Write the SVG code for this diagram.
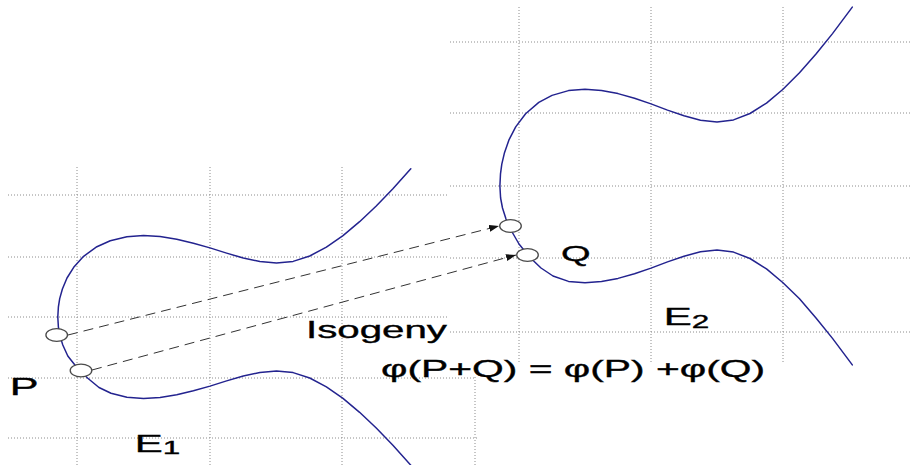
<svg xmlns="http://www.w3.org/2000/svg" width="912" height="465" viewBox="0 0 912 465">
<style>
.grid{stroke:#8c8c8c;stroke-width:1;stroke-dasharray:1 2;fill:none}
.curve{stroke:#23238f;stroke-width:1.5;fill:none;stroke-linejoin:round;stroke-linecap:round}
.pt{fill:#fff;stroke:#4a4a4a;stroke-width:1.3}
.dash{stroke:#333;stroke-width:1;stroke-dasharray:10 6;fill:none}
.lbl{font-family:"Liberation Sans",Arial,sans-serif;fill:#000;stroke:#000;stroke-width:0.35}
</style>
<defs>
<marker id="ah" markerUnits="userSpaceOnUse" markerWidth="11" markerHeight="8" refX="10" refY="3.5" orient="auto">
<path d="M0,0 L10,3.5 L0,7 z" fill="#111"/>
</marker>
</defs>
<rect width="912" height="465" fill="#fff"/>
<g id="grid-left" class="grid">
<path d="M8,195H448M8,257H448M8,317H448M8,378H474M8,438H478"/>
<path d="M77,167V465M210,167V465M342,167V465M475,377V465"/>
</g>
<g id="grid-right" class="grid">
<path d="M450,42H912M450,113H912M450,186H912M450,258H912M450,332H912"/>
<path d="M519,7V363M651,7V363M783,7V363"/>
</g>
<g id="curve-E1">
<path class="curve" d="M410.8,168.8 L392.9,188.8 L376.25,206 L359.6,221.7 L343,235.6 L326.4,247.2 L309.75,256 L293.1,261.4 L276.5,263.1 L259.9,261.6 L243.25,258 L226.6,253.1 L210,247.9 L193.4,243.2 L176.75,239.2 L160.1,236.6 L143.5,235.6 L126.9,236.8 L110.25,240.75 L96.9,246.7 L83.6,256.3 L73.7,267.3 L67,278 L62.4,289 L59.7,298.6 L58.4,306.8 L57.8,317 L58.4,327.2 L59.8,335.4 L62.8,345 L67.8,356 L76.5,367 L87.5,378 L99,387.5 L111,393.3 L126.9,397.2 L143.5,398.4 L160.1,397.4 L176.75,394.8 L193.4,390.8 L210,386.1 L226.6,380.9 L243.25,376 L259.9,372.4 L276.5,370.9 L293.1,372.6 L309.75,378 L326.4,386.8 L343,398.4 L359.6,412.3 L376.25,428 L392.9,445.2 L410.8,465.2"/>
</g>
<g id="curve-E2">
<path class="curve" d="M852.3,7.1 L832.5,33.6 L816,54.05 L799.5,72.7 L783,89.25 L766.5,103.1 L750,113.5 L733.5,119.9 L717,121.9 L700.5,120.2 L684,115.8 L667.5,110.1 L651,103.9 L634.5,98.2 L618,93.6 L601.5,90.4 L585,89.25 L568.5,90.6 L552,95.4 L538.8,102.4 L525.6,113.8 L515.7,126.9 L509.1,139.6 L504.5,152.7 L501.8,164.2 L500.5,173.8 L499.9,186 L500.6,198 L502.5,208 L506,219 L511.5,231 L519,244 L529.5,257 L541,268 L553,276 L568.5,281.4 L585,282.75 L601.5,281.6 L618,278.4 L634.5,273.8 L651,268.1 L667.5,261.9 L684,256.2 L700.5,251.8 L717,250.1 L733.5,252.1 L750,258.5 L766.5,268.9 L783,282.75 L799.5,298.7 L816,317.95 L832.5,338.4 L852.3,364.9"/>
</g>
<g id="connectors">
<line class="dash" x1="68" y1="335" x2="499" y2="226" marker-end="url(#ah)"/>
<line class="dash" x1="92" y1="370" x2="516" y2="255" marker-end="url(#ah)"/>
</g>
<g id="point-P1"><ellipse class="pt" cx="56.7" cy="335" rx="10.8" ry="6.3"/></g>
<g id="point-P2"><ellipse class="pt" cx="81" cy="370.5" rx="10.8" ry="6.3"/></g>
<g id="point-Q1"><ellipse class="pt" cx="510.5" cy="226" rx="10.8" ry="6.3"/></g>
<g id="point-Q2"><ellipse class="pt" cx="527.5" cy="255" rx="10.8" ry="6.3"/></g>
<g id="labels" class="lbl">
<text x="9.7" y="395" font-size="24" textLength="28.8" lengthAdjust="spacingAndGlyphs">P</text>
<text x="561" y="261" font-size="22" textLength="29.6" lengthAdjust="spacingAndGlyphs">Q</text>
<text x="306" y="338" font-size="23" textLength="141" lengthAdjust="spacingAndGlyphs">Isogeny</text>
<text x="381" y="377" font-size="24" textLength="384" lengthAdjust="spacingAndGlyphs">φ(P+Q) = φ(P) +φ(Q)</text>
<text x="134.7" y="452" font-size="24" textLength="45.5" lengthAdjust="spacingAndGlyphs">E<tspan dy="2" font-size="18">1</tspan></text>
<text x="663.7" y="325" font-size="24" textLength="45.5" lengthAdjust="spacingAndGlyphs">E<tspan dy="3" font-size="18">2</tspan></text>
</g>
</svg>
